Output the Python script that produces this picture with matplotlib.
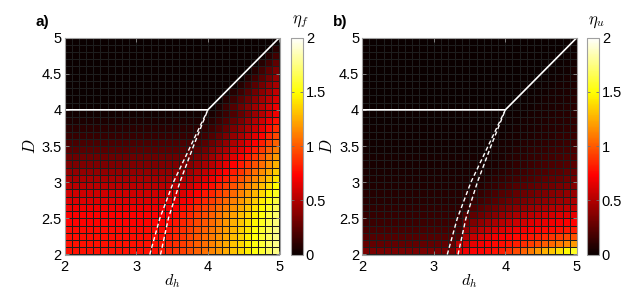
import numpy as np
import matplotlib
matplotlib.use('Agg')
import matplotlib.pyplot as plt

plt.rcParams['font.family'] = ['Liberation Sans', 'DejaVu Sans']
plt.rcParams['mathtext.fontset'] = 'cm'

# grid nodes (cell corners), 0.1 steps
dh_nodes = [2.0, 2.1, 2.2, 2.3, 2.4, 2.5, 2.6, 2.7, 2.8, 2.9, 3.0, 3.1, 3.2, 3.3, 3.4, 3.5,
            3.6, 3.7, 3.8, 3.9, 4.0, 4.1, 4.2, 4.3, 4.4, 4.5, 4.6, 4.7, 4.8, 4.9, 5.0]
D_nodes = [2.0, 2.1, 2.2, 2.3, 2.4, 2.5, 2.6, 2.7, 2.8, 2.9, 3.0, 3.1, 3.2, 3.3, 3.4, 3.5,
           3.6, 3.7, 3.8, 3.9, 4.0, 4.1, 4.2, 4.3, 4.4, 4.5, 4.6, 4.7, 4.8, 4.9, 5.0]

# eta_f, one row per D (2.0 ... 4.9), columns dh 2.0 ... 4.9
eta_f = [
    [.78,.78,.78,.78,.78,.78,.78,.78,.78,.78, .78,.78,.78,.80,.84,.88,.92,.97,1.02,1.07, 1.13,1.18,1.24,1.31,1.37,1.44,1.52,1.59,1.67,1.75],
    [.78,.78,.78,.78,.78,.78,.78,.78,.78,.78, .78,.78,.78,.79,.83,.87,.91,.96,1.01,1.06, 1.12,1.18,1.24,1.31,1.37,1.45,1.52,1.60,1.68,1.76],
    [.77,.77,.77,.77,.77,.77,.77,.77,.77,.77, .77,.77,.77,.77,.80,.85,.89,.94,.99,1.05, 1.10,1.16,1.23,1.29,1.36,1.44,1.51,1.59,1.67,1.76],
    [.76,.76,.76,.76,.76,.76,.76,.76,.76,.76, .76,.76,.76,.76,.78,.83,.87,.92,.97,1.02, 1.08,1.14,1.21,1.27,1.35,1.42,1.50,1.58,1.66,1.75],
    [.74,.74,.74,.74,.74,.74,.74,.74,.74,.74, .74,.74,.74,.74,.75,.79,.84,.89,.94,.99, 1.05,1.11,1.18,1.25,1.32,1.40,1.47,1.55,1.64,1.73],
    [.72,.72,.72,.72,.72,.72,.72,.72,.72,.72, .72,.72,.72,.72,.72,.76,.81,.85,.91,.96, 1.02,1.08,1.15,1.21,1.29,1.36,1.44,1.52,1.61,1.70],
    [.69,.69,.69,.69,.69,.69,.69,.69,.69,.69, .69,.69,.69,.69,.69,.72,.76,.81,.86,.92, .97,1.04,1.10,1.17,1.24,1.32,1.40,1.48,1.57,1.66],
    [.64,.64,.64,.64,.64,.64,.64,.64,.64,.64, .64,.64,.64,.64,.64,.65,.70,.74,.80,.85, .91,.97,1.04,1.11,1.18,1.26,1.34,1.43,1.52,1.61],
    [.59,.59,.59,.59,.59,.59,.59,.59,.59,.59, .59,.59,.59,.59,.59,.59,.63,.68,.73,.79, .84,.91,.97,1.04,1.12,1.20,1.28,1.37,1.46,1.55],
    [.53,.53,.53,.53,.53,.53,.53,.53,.53,.53, .53,.53,.53,.53,.53,.53,.56,.60,.65,.71, .77,.83,.90,.97,1.04,1.12,1.20,1.29,1.38,1.48],
    [.47,.47,.47,.47,.47,.47,.47,.47,.47,.47, .47,.47,.47,.47,.47,.47,.48,.52,.57,.63, .69,.75,.82,.89,.97,1.05,1.13,1.22,1.31,1.41],
    [.41,.41,.41,.41,.41,.41,.41,.41,.41,.41, .41,.41,.41,.41,.41,.41,.41,.45,.50,.55, .61,.67,.74,.81,.89,.97,1.06,1.15,1.24,1.34],
    [.35,.35,.35,.35,.35,.35,.35,.35,.35,.35, .35,.35,.35,.35,.35,.35,.35,.37,.42,.47, .53,.59,.66,.73,.81,.89,.97,1.06,1.16,1.26],
    [.29,.29,.29,.29,.29,.29,.29,.29,.29,.29, .29,.29,.29,.29,.29,.29,.29,.29,.33,.38, .44,.50,.57,.64,.72,.80,.89,.98,1.08,1.18],
    [.24,.24,.24,.24,.24,.24,.24,.24,.24,.24, .24,.24,.24,.24,.24,.24,.24,.24,.26,.31, .37,.43,.49,.57,.64,.72,.81,.90,1.00,1.10],
    [.19,.19,.19,.19,.19,.19,.19,.19,.19,.19, .19,.19,.19,.19,.19,.19,.19,.19,.19,.24, .29,.35,.41,.49,.56,.64,.73,.82,.92,1.02],
    [.14,.14,.14,.14,.14,.14,.14,.14,.14,.14, .14,.14,.14,.14,.14,.14,.14,.14,.14,.17, .22,.28,.34,.41,.48,.56,.65,.74,.84,.94],
    [.10,.10,.10,.10,.10,.10,.10,.10,.10,.10, .10,.10,.10,.10,.10,.10,.10,.10,.10,.11, .16,.21,.27,.34,.41,.49,.57,.66,.76,.86],
    [.06,.06,.06,.06,.06,.06,.06,.06,.06,.06, .06,.06,.06,.06,.06,.06,.06,.06,.06,.06, .10,.15,.21,.27,.34,.42,.50,.59,.68,.78],
    [.03,.03,.03,.03,.03,.03,.03,.03,.03,.03, .03,.03,.03,.03,.03,.03,.03,.03,.03,.03, .05,.10,.15,.21,.28,.35,.43,.51,.60,.70],
    [0,0,0,0,0,0,0,0,0,0, 0,0,0,0,0,0,0,0,0,0, 0,.07,.15,.22,.30,.37,.45,.52,.60,.67],
    [0,0,0,0,0,0,0,0,0,0, 0,0,0,0,0,0,0,0,0,0, 0,0,.08,.15,.23,.30,.38,.46,.53,.61],
    [0,0,0,0,0,0,0,0,0,0, 0,0,0,0,0,0,0,0,0,0, 0,0,0,.08,.15,.23,.31,.39,.46,.54],
    [0,0,0,0,0,0,0,0,0,0, 0,0,0,0,0,0,0,0,0,0, 0,0,0,0,.08,.16,.24,.32,.40,.47],
    [0,0,0,0,0,0,0,0,0,0, 0,0,0,0,0,0,0,0,0,0, 0,0,0,0,0,.08,.16,.24,.32,.41],
    [0,0,0,0,0,0,0,0,0,0, 0,0,0,0,0,0,0,0,0,0, 0,0,0,0,0,0,.08,.17,.25,.33],
    [0,0,0,0,0,0,0,0,0,0, 0,0,0,0,0,0,0,0,0,0, 0,0,0,0,0,0,0,.09,.17,.26],
    [0,0,0,0,0,0,0,0,0,0, 0,0,0,0,0,0,0,0,0,0, 0,0,0,0,0,0,0,0,.09,.17],
    [0,0,0,0,0,0,0,0,0,0, 0,0,0,0,0,0,0,0,0,0, 0,0,0,0,0,0,0,0,0,.09],
    [0,0,0,0,0,0,0,0,0,0, 0,0,0,0,0,0,0,0,0,0, 0,0,0,0,0,0,0,0,0,0],
]

# eta_u, same layout
eta_u = [
    [.33,.33,.33,.33,.33,.33,.33,.33,.33,.33, .33,.33,.33,.63,.69,.72,.74,.76,.78,.82, .88,.95,1.02,1.10,1.18,1.25,1.32,1.40,1.48,1.56],
    [.27,.27,.27,.27,.27,.27,.27,.27,.27,.27, .27,.27,.27,.52,.60,.66,.70,.73,.75,.77, .79,.82,.86,.91,.95,1.00,1.04,1.09,1.14,1.18],
    [.22,.22,.22,.22,.22,.22,.22,.22,.22,.22, .22,.22,.22,.22,.49,.56,.62,.66,.69,.72, .74,.75,.77,.79,.82,.85,.88,.91,.94,.97],
    [.18,.18,.18,.18,.18,.18,.18,.18,.18,.18, .18,.18,.18,.18,.40,.46,.52,.56,.60,.63, .66,.68,.70,.72,.74,.75,.76,.78,.80,.82],
    [.15,.15,.15,.15,.15,.15,.15,.15,.15,.15, .15,.15,.15,.15,.30,.35,.40,.44,.48,.52, .55,.58,.60,.63,.65,.67,.69,.71,.73,.74],
    [.13,.13,.13,.13,.13,.13,.13,.13,.13,.13, .13,.13,.13,.13,.22,.26,.30,.34,.38,.42, .45,.48,.50,.53,.55,.58,.60,.62,.64,.66],
    [.11,.11,.11,.11,.11,.11,.11,.11,.11,.11, .11,.11,.11,.11,.11,.20,.24,.27,.30,.33, .36,.38,.41,.43,.46,.48,.50,.52,.54,.56],
    [.09,.09,.09,.09,.09,.09,.09,.09,.09,.09, .09,.09,.09,.09,.09,.14,.17,.20,.23,.26, .29,.31,.34,.36,.38,.40,.42,.44,.46,.48],
    [.08,.08,.08,.08,.08,.08,.08,.08,.08,.08, .08,.08,.08,.08,.08,.10,.13,.16,.19,.22, .24,.27,.29,.31,.33,.35,.37,.39,.41,.42],
    [.07,.07,.07,.07,.07,.07,.07,.07,.07,.07, .07,.07,.07,.07,.07,.07,.09,.12,.14,.17, .19,.22,.24,.26,.28,.30,.31,.33,.35,.36],
    [.06,.06,.06,.06,.06,.06,.06,.06,.06,.06, .06,.06,.06,.06,.06,.06,.07,.09,.11,.13, .15,.17,.19,.21,.23,.25,.27,.28,.30,.31],
    [.05,.05,.05,.05,.05,.05,.05,.05,.05,.05, .05,.05,.05,.05,.05,.05,.05,.06,.08,.10, .12,.14,.16,.18,.20,.21,.23,.24,.26,.27],
    [.04,.04,.04,.04,.04,.04,.04,.04,.04,.04, .04,.04,.04,.04,.04,.04,.04,.05,.06,.08, .10,.12,.13,.15,.17,.18,.20,.21,.22,.24],
    [.04,.04,.04,.04,.04,.04,.04,.04,.04,.04, .04,.04,.04,.04,.04,.04,.04,.04,.05,.06, .08,.10,.11,.13,.14,.16,.17,.18,.20,.21],
    [.03,.03,.03,.03,.03,.03,.03,.03,.03,.03, .03,.03,.03,.03,.03,.03,.03,.03,.04,.05, .06,.08,.09,.11,.12,.13,.15,.16,.17,.18],
    [.03,.03,.03,.03,.03,.03,.03,.03,.03,.03, .03,.03,.03,.03,.03,.03,.03,.03,.03,.04, .05,.06,.08,.09,.10,.11,.12,.14,.15,.16],
    [.02,.02,.02,.02,.02,.02,.02,.02,.02,.02, .02,.02,.02,.02,.02,.02,.02,.02,.02,.03, .04,.05,.06,.07,.08,.09,.10,.12,.13,.14],
    [.02,.02,.02,.02,.02,.02,.02,.02,.02,.02, .02,.02,.02,.02,.02,.02,.02,.02,.02,.02, .03,.04,.05,.06,.07,.08,.09,.10,.11,.12],
    [.01,.01,.01,.01,.01,.01,.01,.01,.01,.01, .01,.01,.01,.01,.01,.01,.01,.01,.01,.01, .02,.03,.04,.05,.06,.07,.08,.09,.10,.11],
    [.01,.01,.01,.01,.01,.01,.01,.01,.01,.01, .01,.01,.01,.01,.01,.01,.01,.01,.01,.01, .01,.02,.03,.04,.05,.06,.07,.08,.09,.10],
    [0,0,0,0,0,0,0,0,0,0, 0,0,0,0,0,0,0,0,0,0, 0,.01,.02,.03,.04,.05,.06,.07,.08,.09],
    [0,0,0,0,0,0,0,0,0,0, 0,0,0,0,0,0,0,0,0,0, 0,0,.01,.02,.03,.04,.05,.06,.07,.08],
    [0,0,0,0,0,0,0,0,0,0, 0,0,0,0,0,0,0,0,0,0, 0,0,0,.01,.02,.03,.04,.05,.06,.07],
    [0,0,0,0,0,0,0,0,0,0, 0,0,0,0,0,0,0,0,0,0, 0,0,0,0,.01,.02,.03,.04,.05,.06],
    [0,0,0,0,0,0,0,0,0,0, 0,0,0,0,0,0,0,0,0,0, 0,0,0,0,0,.01,.02,.03,.04,.05],
    [0,0,0,0,0,0,0,0,0,0, 0,0,0,0,0,0,0,0,0,0, 0,0,0,0,0,0,.01,.02,.03,.04],
    [0,0,0,0,0,0,0,0,0,0, 0,0,0,0,0,0,0,0,0,0, 0,0,0,0,0,0,0,.01,.02,.03],
    [0,0,0,0,0,0,0,0,0,0, 0,0,0,0,0,0,0,0,0,0, 0,0,0,0,0,0,0,0,.01,.02],
    [0,0,0,0,0,0,0,0,0,0, 0,0,0,0,0,0,0,0,0,0, 0,0,0,0,0,0,0,0,0,.01],
    [0,0,0,0,0,0,0,0,0,0, 0,0,0,0,0,0,0,0,0,0, 0,0,0,0,0,0,0,0,0,0],
]

# white boundary lines
border_dh = [2, 4, 5]
border_D = [4, 4, 5]
# the two dashed curves
dash1_dh = [3.19, 3.33, 3.52, 3.76, 4.0]
dash2_dh = [3.34, 3.45, 3.61, 3.80, 4.0]
dash_D = [2.0, 2.5, 3.0, 3.5, 4.0]

panels = [('a)', eta_f, r'$\eta_f$'), ('b)', eta_u, r'$\eta_u$')]

W, H = 633, 290
fig = plt.figure(figsize=(W / 100, H / 100), dpi=100)

ax_left = [64.5, 362]
cb_left = [291, 587]
for k, (tag, vals, cblabel) in enumerate(panels):
    ax = fig.add_axes([ax_left[k] / W, 1 - 254.5 / H, 215 / W, 217 / H])
    mesh = ax.pcolormesh(dh_nodes, D_nodes, np.array(vals), cmap='hot', vmin=0, vmax=2,
                         edgecolors='#1e1e1e', linewidth=0.5)
    ax.plot(border_dh, border_D, color='white', lw=1.2)
    ax.plot(dash1_dh, dash_D, color='white', lw=1.0, dashes=(3, 2))
    ax.plot(dash2_dh, dash_D, color='white', lw=1.0, dashes=(3, 2))
    ax.set_xlim(2, 5)
    ax.set_ylim(2, 5)
    ax.set_xticks([2, 3, 4, 5])
    ax.set_xticklabels(['2', '3', '4', '5'])
    ax.set_yticks([2, 2.5, 3, 3.5, 4, 4.5, 5])
    ax.set_yticklabels(['2', '2.5', '3', '3.5', '4', '4.5', '5'])
    ax.tick_params(direction='in', length=3, width=0.6, color='#909090',
                   top=True, right=True, labelsize=10.5)
    ax.tick_params(axis='x', pad=4)
    ax.tick_params(axis='y', pad=2)
    for s in ax.spines.values():
        s.set_color('#a0a0a0')
        s.set_linewidth(0.8)
    ax.set_xlabel(r'$d_h$', fontsize=11.5)
    ax.xaxis.set_label_coords(0.5, -0.08)
    ax.set_ylabel(r'$D$', fontsize=12)
    ax.yaxis.set_label_coords(-0.125, 0.5)

    cax = fig.add_axes([cb_left[k] / W, 1 - 254.5 / H, 12 / W, 217 / H])
    cb = fig.colorbar(mesh, cax=cax)
    cb.set_ticks([0, 0.5, 1, 1.5, 2])
    cb.set_ticklabels(['0', '0.5', '1', '1.5', '2'])
    cax.tick_params(direction='in', length=2.5, width=0.6, color='#707070',
                    left=True, right=True, labelsize=10.5, pad=2)
    cb.outline.set_edgecolor('#a0a0a0')
    cb.outline.set_linewidth(0.8)
    fig.text((cb_left[k] + 9) / W, 1 - 22 / H, cblabel, fontsize=12,
             ha='center', va='center')

    fig.text((ax_left[k] - 22) / W, 1 - 22 / H, tag, fontsize=11,
             fontweight='bold', ha='center', va='center')

fig.savefig('out.png', dpi=100)
